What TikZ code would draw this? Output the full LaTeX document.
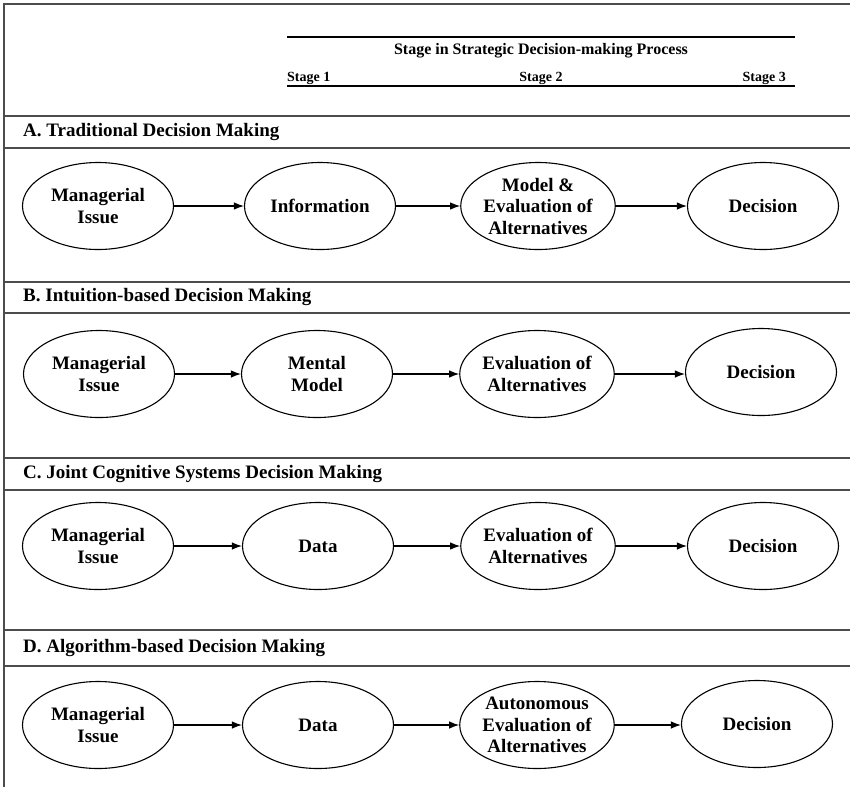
\documentclass[tikz,border=0pt]{standalone}
\usepackage{fontspec}
\setmainfont{Liberation Serif}
\usetikzlibrary{shapes.geometric,arrows.meta}
\begin{document}
\begin{tikzpicture}[x=1pt,y=-1pt,
    rule/.style={draw=black!70,line width=1.6pt},
    headrule/.style={draw=black,line width=1.3pt},
    rowtitle/.style={anchor=west,inner sep=0pt,font=\fontsize{19}{21}\selectfont\bfseries},
    stagenode/.style={draw,ellipse,line width=1.1pt,inner sep=0pt,minimum width=151pt,minimum height=87pt,
        align=center,font=\fontsize{19}{21.5}\selectfont\bfseries},
    flow/.style={line width=1.2pt,-{Latex[length=10pt,width=7.5pt]}}]
    \useasboundingbox (0,0) rectangle (850,787);
    %% Frame and rules
    \draw[rule] (4,787) -- (4,4) -- (850,4);
    \draw[rule] (4,116) -- (850,116);
    \draw[rule] (4,148) -- (850,148);
    \draw[rule] (4,282) -- (850,282);
    \draw[rule] (4,313) -- (850,313);
    \draw[rule] (4,458) -- (850,458);
    \draw[rule] (4,490) -- (850,490);
    \draw[rule] (4,630) -- (850,630);
    \draw[rule] (4,666) -- (850,666);
    %% Header
    \draw[headrule] (287,37) -- (795,37);
    \draw[headrule] (287,86) -- (795,86);
    \node[font=\fontsize{16}{18}\selectfont\bfseries] (head) at (541,51) {Stage in Strategic Decision-making Process};
    \node[font=\fontsize{14}{16}\selectfont\bfseries,anchor=base west,inner sep=0pt] (st1) at (287,81) {Stage 1};
    \node[font=\fontsize{14}{16}\selectfont\bfseries,anchor=base,inner sep=0pt] (st2) at (541,81) {Stage 2};
    \node[font=\fontsize{14}{16}\selectfont\bfseries,anchor=base east,inner sep=0pt] (st3) at (786,81) {Stage 3};
    %% A. Traditional
    \node[rowtitle] (ta) at (23,132) {A. Traditional Decision Making};
    \node[stagenode] (a1) at (98,206) {Managerial\\Issue};
    \node[stagenode] (a2) at (320,206) {Information};
    \node[stagenode] (a3) at (538,206) {Model \&\\Evaluation of\\Alternatives};
    \node[stagenode] (a4) at (763,206) {Decision};
    \draw[flow] (a1) -- (a2);
    \draw[flow] (a2) -- (a3);
    \draw[flow] (a3) -- (a4);
    %% B. Intuition-based
    \node[rowtitle] (tb) at (23,297) {B. Intuition-based Decision Making};
    \node[stagenode] (b1) at (99,374) {Managerial\\Issue};
    \node[stagenode] (b2) at (317,374) {Mental\\Model};
    \node[stagenode] (b3) at (537,374) {Evaluation of\\Alternatives};
    \node[stagenode] (b4) at (761,372) {Decision};
    \draw[flow] (b1) -- (b2);
    \draw[flow] (b2) -- (b3);
    \draw[flow] (b3) -- (b4.west |- b3);
    %% C. Joint Cognitive Systems
    \node[rowtitle] (tc) at (23,474) {C. Joint Cognitive Systems Decision Making};
    \node[stagenode] (c1) at (98,546) {Managerial\\Issue};
    \node[stagenode] (c2) at (318,546) {Data};
    \node[stagenode] (c3) at (538,546) {Evaluation of\\Alternatives};
    \node[stagenode] (c4) at (763,546) {Decision};
    \draw[flow] (c1) -- (c2);
    \draw[flow] (c2) -- (c3);
    \draw[flow] (c3) -- (c4);
    %% D. Algorithm-based
    \node[rowtitle] (td) at (23,648) {D. Algorithm-based Decision Making};
    \node[stagenode] (d1) at (98,725) {Managerial\\Issue};
    \node[stagenode] (d2) at (318,725) {Data};
    \node[stagenode] (d3) at (537,725) {Autonomous\\Evaluation of\\Alternatives};
    \node[stagenode] (d4) at (757,724) {Decision};
    \draw[flow] (d1) -- (d2);
    \draw[flow] (d2) -- (d3);
    \draw[flow] (d3) -- (d4.west |- d3);
\end{tikzpicture}
\end{document}
